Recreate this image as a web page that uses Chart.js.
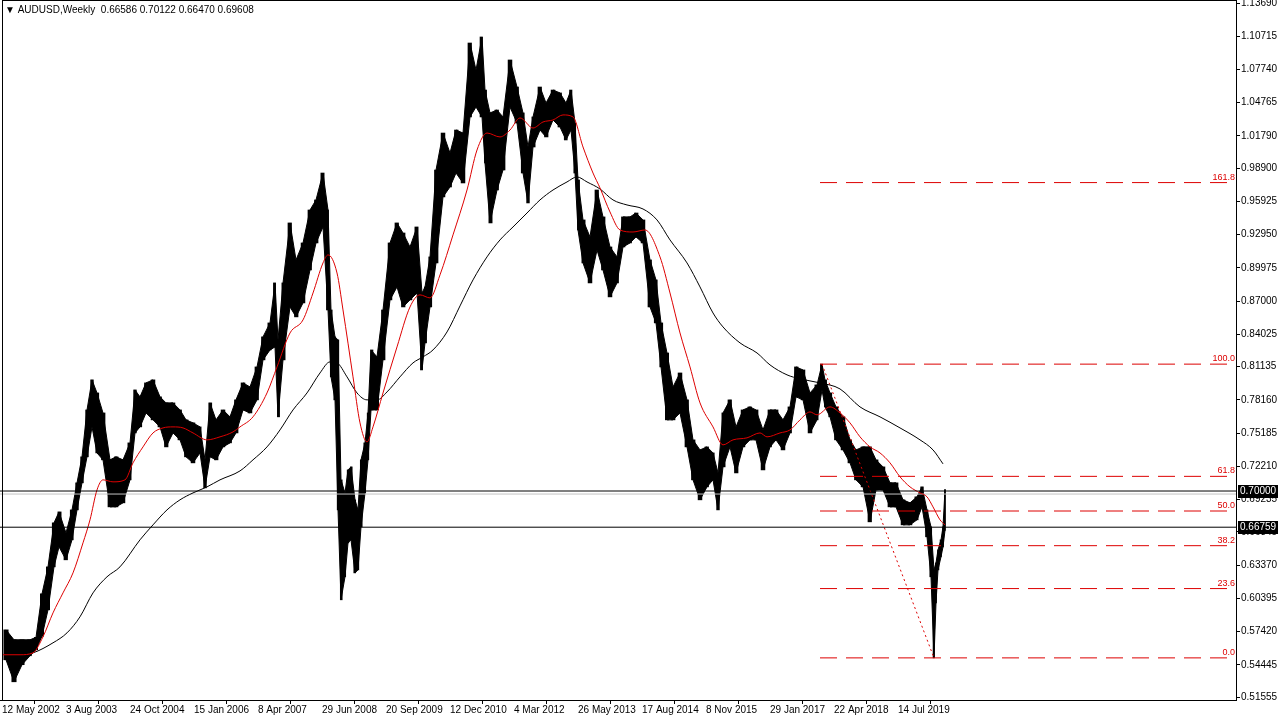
<!DOCTYPE html>
<html>
<head>
<meta charset="utf-8">
<title>AUDUSD Weekly</title>
<script src="https://cdn.jsdelivr.net/npm/chart.js@4.4.1/dist/chart.umd.min.js"></script>
<style>
  html, body { margin: 0; padding: 0; background: #fff; }
</style>
</head>
<body>
<canvas id="chart" width="1280" height="720"></canvas>
<script>
// x values are weeks counted from 12 May 2002
const dateLabels = ["12 May 2002", "3 Aug 2003", "24 Oct 2004", "15 Jan 2006", "8 Apr 2007", "29 Jun 2008",
  "20 Sep 2009", "12 Dec 2010", "4 Mar 2012", "26 May 2013", "17 Aug 2014", "8 Nov 2015",
  "29 Jan 2017", "22 Apr 2018", "14 Jul 2019"];
const labelWeeks = [0, 64, 128, 192, 256, 320, 384, 448, 512, 576, 640, 704, 768, 832, 896];
const priceTicks = [1.13690, 1.10715, 1.07740, 1.04765, 1.01790, 0.98900, 0.95925, 0.92950, 0.89975,
  0.87000, 0.84025, 0.81135, 0.78160, 0.75185, 0.72210, 0.69235, 0.66345, 0.63370, 0.60395,
  0.57420, 0.54445, 0.51555];

// price range (low / high) of each group of weekly bars
const barWeeks = [4, 12, 20, 28, 34, 40, 46, 52, 57, 64, 70, 75, 80, 85, 90, 95, 101, 108, 114, 121,
  128, 133, 138, 144, 151, 158, 164, 171, 178, 184, 191, 198, 203, 208, 214, 221, 228, 234, 241, 248,
  255, 261, 268, 273, 276, 281, 288, 294, 301, 308, 314, 321, 326, 329, 333, 336, 339, 343, 346, 349,
  353, 356, 359, 363, 366, 369, 375, 381, 388, 395, 401, 408, 415, 420, 423, 428, 434, 441, 448, 454,
  461, 468, 474, 480, 483, 488, 495, 501, 508, 515, 521, 526, 531, 538, 544, 551, 558, 564, 569, 573,
  576, 581, 588, 595, 601, 608, 615, 621, 628, 634, 641, 648, 654, 659, 665, 671, 678, 685, 691, 698,
  705, 711, 716, 721, 728, 734, 741, 748, 754, 761, 768, 774, 781, 788, 794, 801, 808, 815, 820, 823,
  828, 834, 841, 848, 854, 861, 868, 874, 881, 888, 894, 901, 908, 915, 920, 925, 929, 932, 934, 936,
  939, 941, 943];
const barLows = [0.5489, 0.5292, 0.5445, 0.5525, 0.5578, 0.5700, 0.5936, 0.6321, 0.6500, 0.6384,
  0.6563, 0.6831, 0.7073, 0.7306, 0.7574, 0.7341, 0.7279, 0.6858, 0.6858, 0.6894,
  0.7100, 0.7520, 0.7574, 0.7699, 0.7637, 0.7574, 0.7395, 0.7520, 0.7458, 0.7306,
  0.7252, 0.7341, 0.7028, 0.7306, 0.7279, 0.7395, 0.7431, 0.7520, 0.7726, 0.7699,
  0.7816, 0.8174, 0.8263, 0.8290, 0.7664, 0.8174, 0.8648, 0.8559, 0.8684, 0.8979,
  0.9221, 0.9364, 0.8621, 0.8022, 0.7816, 0.6831, 0.6026, 0.6232, 0.6536, 0.6563,
  0.6267, 0.6294, 0.6679, 0.6983, 0.7279, 0.7726, 0.7726, 0.8174, 0.8711, 0.8827,
  0.8648, 0.8711, 0.8773, 0.8084, 0.8326, 0.8648, 0.9042, 0.9633, 0.9722, 0.9847,
  0.9758, 1.0349, 1.0438, 1.0349, 0.9937, 0.9400, 0.9695, 0.9874, 1.0438, 1.0295,
  0.9847, 0.9579, 1.0080, 1.0232, 1.0170, 1.0322, 1.0259, 1.0143, 1.0232, 0.9847,
  0.9337, 0.9042, 0.8863, 0.9158, 0.8979, 0.8738, 0.8863, 0.9185, 0.9221, 0.9275,
  0.9221, 0.8648, 0.8505, 0.8111, 0.7637, 0.7637, 0.7699, 0.7395, 0.7100, 0.6921,
  0.7037, 0.7100, 0.6831, 0.7216, 0.7395, 0.7162, 0.7395, 0.7458, 0.7458, 0.7189,
  0.7395, 0.7458, 0.7368, 0.7520, 0.7843, 0.7816, 0.7520, 0.7637, 0.7905, 0.7753,
  0.7664, 0.7458, 0.7368, 0.7252, 0.7100, 0.7037, 0.6724, 0.7010, 0.7010, 0.6858,
  0.6858, 0.6697, 0.6697, 0.6742, 0.6858, 0.6590, 0.6232, 0.5506, 0.5999, 0.6294,
  0.6411, 0.6500, 0.6647];
const barHighs = [0.5757, 0.5668, 0.5668, 0.5668, 0.5690, 0.6080, 0.6321, 0.6715, 0.6813, 0.6625,
  0.6831, 0.7073, 0.7306, 0.7726, 0.7995, 0.7878, 0.7699, 0.7279, 0.7306, 0.7279,
  0.7431, 0.7905, 0.7843, 0.7968, 0.7995, 0.7843, 0.7789, 0.7789, 0.7726, 0.7637,
  0.7610, 0.7574, 0.7279, 0.7789, 0.7637, 0.7726, 0.7664, 0.7816, 0.7968, 0.7932,
  0.8111, 0.8380, 0.8505, 0.8863, 0.8353, 0.8863, 0.9400, 0.9069, 0.9221, 0.9516,
  0.9606, 0.9847, 0.9516, 0.8621, 0.8380, 0.8353, 0.7100, 0.6983, 0.7189, 0.7216,
  0.6921, 0.6831, 0.7279, 0.7431, 0.7699, 0.8263, 0.8201, 0.8621, 0.9221, 0.9400,
  0.9310, 0.9185, 0.9364, 0.8773, 0.8827, 0.9096, 0.9874, 1.0205, 1.0026, 1.0232,
  1.0205, 1.1011, 1.0769, 1.1065, 1.0590, 1.0385, 1.0411, 1.0349, 1.0859, 1.0617,
  1.0385, 1.0080, 1.0349, 1.0617, 1.0474, 1.0590, 1.0564, 1.0474, 1.0590, 1.0295,
  0.9785, 0.9427, 0.9275, 0.9695, 0.9454, 0.9185, 0.9096, 0.9454, 0.9454, 0.9489,
  0.9427, 0.9069, 0.8890, 0.8505, 0.8236, 0.7932, 0.8057, 0.7816, 0.7458, 0.7368,
  0.7395, 0.7341, 0.7162, 0.7699, 0.7816, 0.7574, 0.7726, 0.7753, 0.7726, 0.7547,
  0.7726, 0.7726, 0.7637, 0.7753, 0.8111, 0.8084, 0.7878, 0.7950, 0.8136, 0.7995,
  0.7878, 0.7753, 0.7664, 0.7458, 0.7368, 0.7395, 0.7395, 0.7279, 0.7216, 0.7073,
  0.7073, 0.6921, 0.6894, 0.6948, 0.7037, 0.6831, 0.6679, 0.6294, 0.6357, 0.6473,
  0.6563, 0.6680, 0.7012];

// moving averages
const redMaWeeks = [1, 18, 31, 41, 51, 61, 71, 81, 88, 95, 101, 111, 123, 131, 141, 151, 161, 171, 181, 191,
  205, 218, 231, 238, 251, 265, 275, 288, 301, 311, 321, 326, 335, 341, 351, 358, 365, 371, 381, 395,
  408, 418, 428, 438, 451, 465, 475, 485, 498, 508, 518, 531, 541, 551, 561, 571, 581, 591, 598, 608,
  618, 631, 643, 658, 668, 678, 688, 698, 711, 721, 731, 745, 758, 765, 778, 788, 798, 808, 815, 828,
  838, 848, 858, 868, 878, 888, 898, 908, 918, 925, 931, 938, 943];
const redMa = [0.5534, 0.5534, 0.5551, 0.5695, 0.5909, 0.6088, 0.6267, 0.6536, 0.6742, 0.7010,
  0.7100, 0.7082, 0.7100, 0.7252, 0.7395, 0.7520, 0.7565, 0.7574, 0.7565, 0.7520,
  0.7458, 0.7485, 0.7529, 0.7574, 0.7664, 0.7878, 0.8111, 0.8415, 0.8532, 0.8773,
  0.9042, 0.9114, 0.8952, 0.8621, 0.8022, 0.7610, 0.7440, 0.7574, 0.7878, 0.8290,
  0.8648, 0.8756, 0.8729, 0.8935, 0.9293, 0.9695, 1.0053, 1.0205, 1.0170, 1.0232,
  1.0340, 1.0250, 1.0304, 1.0322, 1.0367, 1.0349, 1.0080, 0.9847, 0.9713, 0.9498,
  0.9337, 0.9319, 0.9337, 0.9096, 0.8773, 0.8415, 0.8111, 0.7789, 0.7574, 0.7413,
  0.7458, 0.7476, 0.7520, 0.7485, 0.7520, 0.7547, 0.7637, 0.7708, 0.7682, 0.7753,
  0.7699, 0.7610, 0.7485, 0.7395, 0.7341, 0.7252, 0.7127, 0.7037, 0.6983, 0.6948,
  0.6858, 0.6742, 0.6697];
const blackMaWeeks = [8, 31, 51, 65, 78, 91, 105, 118, 138, 151, 165, 178, 191, 205, 218, 238, 251, 265, 278, 291,
  305, 318, 328, 335, 345, 355, 365, 375, 385, 398, 411, 421, 431, 445, 458, 471, 485, 498, 511, 525,
  538, 551, 565, 575, 585, 598, 611, 625, 641, 655, 668, 685, 698, 711, 721, 738, 755, 768, 785, 798,
  818, 838, 858, 878, 898, 918, 931, 941];
const blackMa = [0.5516, 0.5551, 0.5641, 0.5730, 0.5874, 0.6088, 0.6232, 0.6321, 0.6563, 0.6697,
  0.6831, 0.6921, 0.6983, 0.7037, 0.7100, 0.7180, 0.7279, 0.7395, 0.7547, 0.7726,
  0.7878, 0.8057, 0.8156, 0.8147, 0.8022, 0.7878, 0.7816, 0.7816, 0.7887, 0.8022,
  0.8147, 0.8201, 0.8263, 0.8424, 0.8657, 0.8890, 0.9096, 0.9248, 0.9364, 0.9489,
  0.9606, 0.9695, 0.9767, 0.9812, 0.9767, 0.9704, 0.9606, 0.9561, 0.9525, 0.9427,
  0.9248, 0.9042, 0.8827, 0.8594, 0.8469, 0.8326, 0.8236, 0.8129, 0.8040, 0.8004,
  0.7968, 0.7914, 0.7753, 0.7664, 0.7565, 0.7458, 0.7368, 0.7243];

// Fibonacci retracement between the Jan 2018 high and the Mar 2020 low
const fibHighWeek = 820, fibHigh = 0.8136;
const fibLowWeek = 932, fibLow = 0.5506;
const fibLevels = [0.0, 23.6, 38.2, 50.0, 61.8, 100.0, 161.8];
const fibEndWeek = 1234;

const markedPrices = [0.70000, 0.66759];
const bidPrice = 0.6973;
const header = "\u25BC AUDUSD,Weekly  0.66586 0.70122 0.66470 0.69608";

const FONT = "'Liberation Sans', Arial, sans-serif";
const RED = "#dd0000";
const fibPrice = lv => fibLow + (fibHigh - fibLow) * lv / 100;
const firstWeek = -2, lastWeek = 1234;

const datasets = [];
markedPrices.forEach(p => datasets.push({
  type: "line", data: [{ x: firstWeek, y: p }, { x: lastWeek, y: p }],
  borderColor: "#000", borderWidth: 1, pointRadius: 0, order: 0
}));
datasets.push({
  type: "line", data: [{ x: firstWeek, y: bidPrice }, { x: lastWeek, y: bidPrice }],
  borderColor: "#c4c4c4", borderWidth: 1, pointRadius: 0, order: 3
});
fibLevels.forEach(lv => datasets.push({
  type: "line", data: [{ x: fibHighWeek - 2, y: fibPrice(lv) }, { x: fibEndWeek, y: fibPrice(lv) }],
  borderColor: RED, borderWidth: 1, borderDash: [17, 9], pointRadius: 0, order: 2
}));
datasets.push({
  type: "line", data: [{ x: fibHighWeek, y: fibHigh }, { x: fibLowWeek, y: fibLow }],
  borderColor: RED, borderWidth: 1, borderDash: [2, 3], pointRadius: 0, order: 2
});
datasets.push({
  type: "line", data: redMaWeeks.map((w, i) => ({ x: w, y: redMa[i] })),
  borderColor: RED, borderWidth: 1, pointRadius: 0, cubicInterpolationMode: "monotone", order: 1
});
datasets.push({
  type: "line", data: blackMaWeeks.map((w, i) => ({ x: w, y: blackMa[i] })),
  borderColor: "#000", borderWidth: 1, pointRadius: 0, cubicInterpolationMode: "monotone", order: 1
});
// the dense weekly bars: a black band between highs and lows, with the range bars on top
datasets.push({
  type: "line", data: barWeeks.map((w, i) => ({ x: w, y: barHighs[i] })),
  borderColor: "#000", borderWidth: 1, pointRadius: 0, tension: 0, fill: false, order: 10
});
datasets.push({
  type: "line", data: barWeeks.map((w, i) => ({ x: w, y: barLows[i] })),
  borderColor: "#000", borderWidth: 1, pointRadius: 0, tension: 0,
  fill: "-1", backgroundColor: "#000", order: 10
});
datasets.push({
  type: "bar", data: barWeeks.map((w, i) => ({ x: w, y: [barLows[i], barHighs[i]] })),
  backgroundColor: "#000", borderWidth: 0, barThickness: "flex",
  barPercentage: 0.55, categoryPercentage: 1, order: 9
});

const overlay = {
  id: "overlay",
  afterDraw(chart) {
    const { ctx, chartArea: a, scales: { x, y } } = chart;
    ctx.save();
    ctx.strokeStyle = "#000";
    ctx.lineWidth = 1;
    ctx.strokeRect(a.left + 2.5, a.top + 0.5, a.right - a.left - 2, a.bottom - a.top);

    ctx.font = "10px " + FONT;
    ctx.fillStyle = "#000";
    ctx.textAlign = "left";
    ctx.textBaseline = "middle";
    ctx.fillText(header, 5, 10);

    ctx.font = "9px " + FONT;
    ctx.fillStyle = RED;
    ctx.textAlign = "right";
    ctx.textBaseline = "bottom";
    fibLevels.forEach(lv => {
      ctx.fillText(lv.toFixed(1), x.getPixelForValue(fibEndWeek) - 1, y.getPixelForValue(fibPrice(lv)) - 1);
    });

    ctx.font = "10px " + FONT;
    ctx.textAlign = "left";
    ctx.textBaseline = "middle";
    markedPrices.forEach(p => {
      const py = Math.round(y.getPixelForValue(p));
      ctx.fillStyle = "#000";
      ctx.fillRect(a.right + 2, py - 6, 40, 13);
      ctx.fillStyle = "#fff";
      ctx.fillText(p.toFixed(5), a.right + 4, py + 0.5);
    });
    ctx.restore();
  }
};

new Chart(document.getElementById("chart"), {
  type: "bar",
  data: { datasets: datasets },
  options: {
    responsive: false,
    animation: false,
    devicePixelRatio: 1,
    layout: { padding: 0 },
    plugins: { legend: { display: false }, tooltip: { enabled: false } },
    scales: {
      x: {
        type: "linear",
        min: firstWeek,
        max: lastWeek,
        offset: false,
        grid: { drawOnChartArea: false, drawTicks: true, tickLength: 4, color: "#000" },
        border: { display: true, color: "#000" },
        ticks: {
          autoSkip: false, maxRotation: 0, align: "start", padding: 0, color: "#000",
          font: { family: FONT, size: 10 },
          callback: v => dateLabels[labelWeeks.indexOf(v)]
        },
        afterBuildTicks: s => { s.ticks = labelWeeks.map(v => ({ value: v })); },
        afterFit: s => { s.height = 20; s.paddingLeft = 0; s.paddingRight = 0; }
      },
      y: {
        type: "linear",
        position: "right",
        min: 0.5129,
        max: 1.1396,
        grid: { drawOnChartArea: false, drawTicks: true, tickLength: 4, color: "#000" },
        border: { display: true, color: "#000" },
        ticks: {
          autoSkip: false, padding: 1, color: "#000",
          font: { family: FONT, size: 10 },
          callback: v => v.toFixed(5)
        },
        afterBuildTicks: s => { s.ticks = priceTicks.map(v => ({ value: v })); },
        afterFit: s => { s.width = 44; s.paddingTop = 0; s.paddingBottom = 0; }
      }
    }
  },
  plugins: [overlay]
});
</script>
</body>
</html>
